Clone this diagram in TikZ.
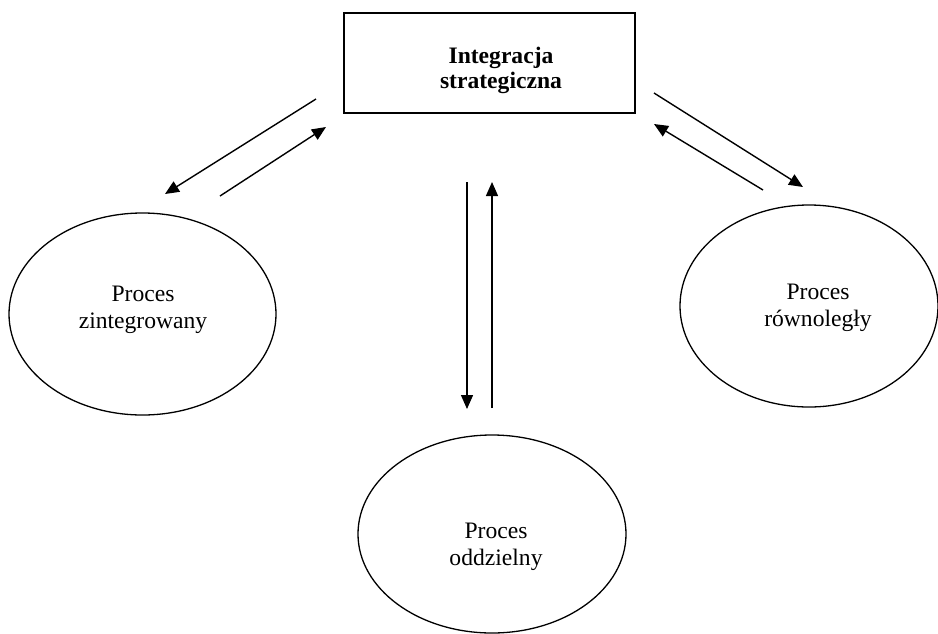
\documentclass[tikz,border=0pt]{standalone}
\usepackage{fontspec}
\setmainfont{Liberation Serif}
\usetikzlibrary{arrows.meta,shapes.geometric}
\begin{document}
\begin{tikzpicture}[x=1pt,y=-1pt,
  proc/.style={draw,ellipse,line width=1.3pt,inner sep=0pt},
  txt/.style={align=center,inner sep=0pt,font=\fontsize{23.6pt}{27pt}\selectfont},
  conn/.style={line width=1.4pt,-{Triangle[length=14pt,width=12pt]}}]
\useasboundingbox (0,0) rectangle (938,633);
\node[draw,line width=1.6pt,minimum width=291pt,minimum height=100pt,inner sep=0pt] (top) at (489.5,63) {};
\node[txt,font=\fontsize{23.6pt}{25pt}\selectfont\bfseries] (toplbl) at (501,70) {Integracja\\strategiczna};
\node[proc,minimum width=267pt,minimum height=202pt] (left) at (142.5,314) {};
\node[txt] (leftlbl) at (143,310) {Proces\\zintegrowany};
\node[proc,minimum width=258pt,minimum height=202pt] (right) at (809,306) {};
\node[txt] (rightlbl) at (818,308) {Proces\\równoległy};
\node[proc,minimum width=268pt,minimum height=198pt] (bottom) at (492,534) {};
\node[txt] (bottomlbl) at (496,547) {Proces\\oddzielny};
% arrow endpoints
\coordinate (a1s) at (316,99);  \coordinate (a1e) at (165,194);
\coordinate (a2s) at (220,196); \coordinate (a2e) at (326,127);
\coordinate (a3s) at (654,93);  \coordinate (a3e) at (803,187);
\coordinate (a4s) at (763,190); \coordinate (a4e) at (654,124);
\coordinate (a5s) at (467,182); \coordinate (a5e) at (467,409);
\coordinate (a6s) at (492,408); \coordinate (a6e) at (492,182);
\draw[conn] (a1s) -- (a1e);
\draw[conn] (a2s) -- (a2e);
\draw[conn] (a3s) -- (a3e);
\draw[conn] (a4s) -- (a4e);
\draw[conn] (a5s) -- (a5e);
\draw[conn] (a6s) -- (a6e);
\end{tikzpicture}
\end{document}
